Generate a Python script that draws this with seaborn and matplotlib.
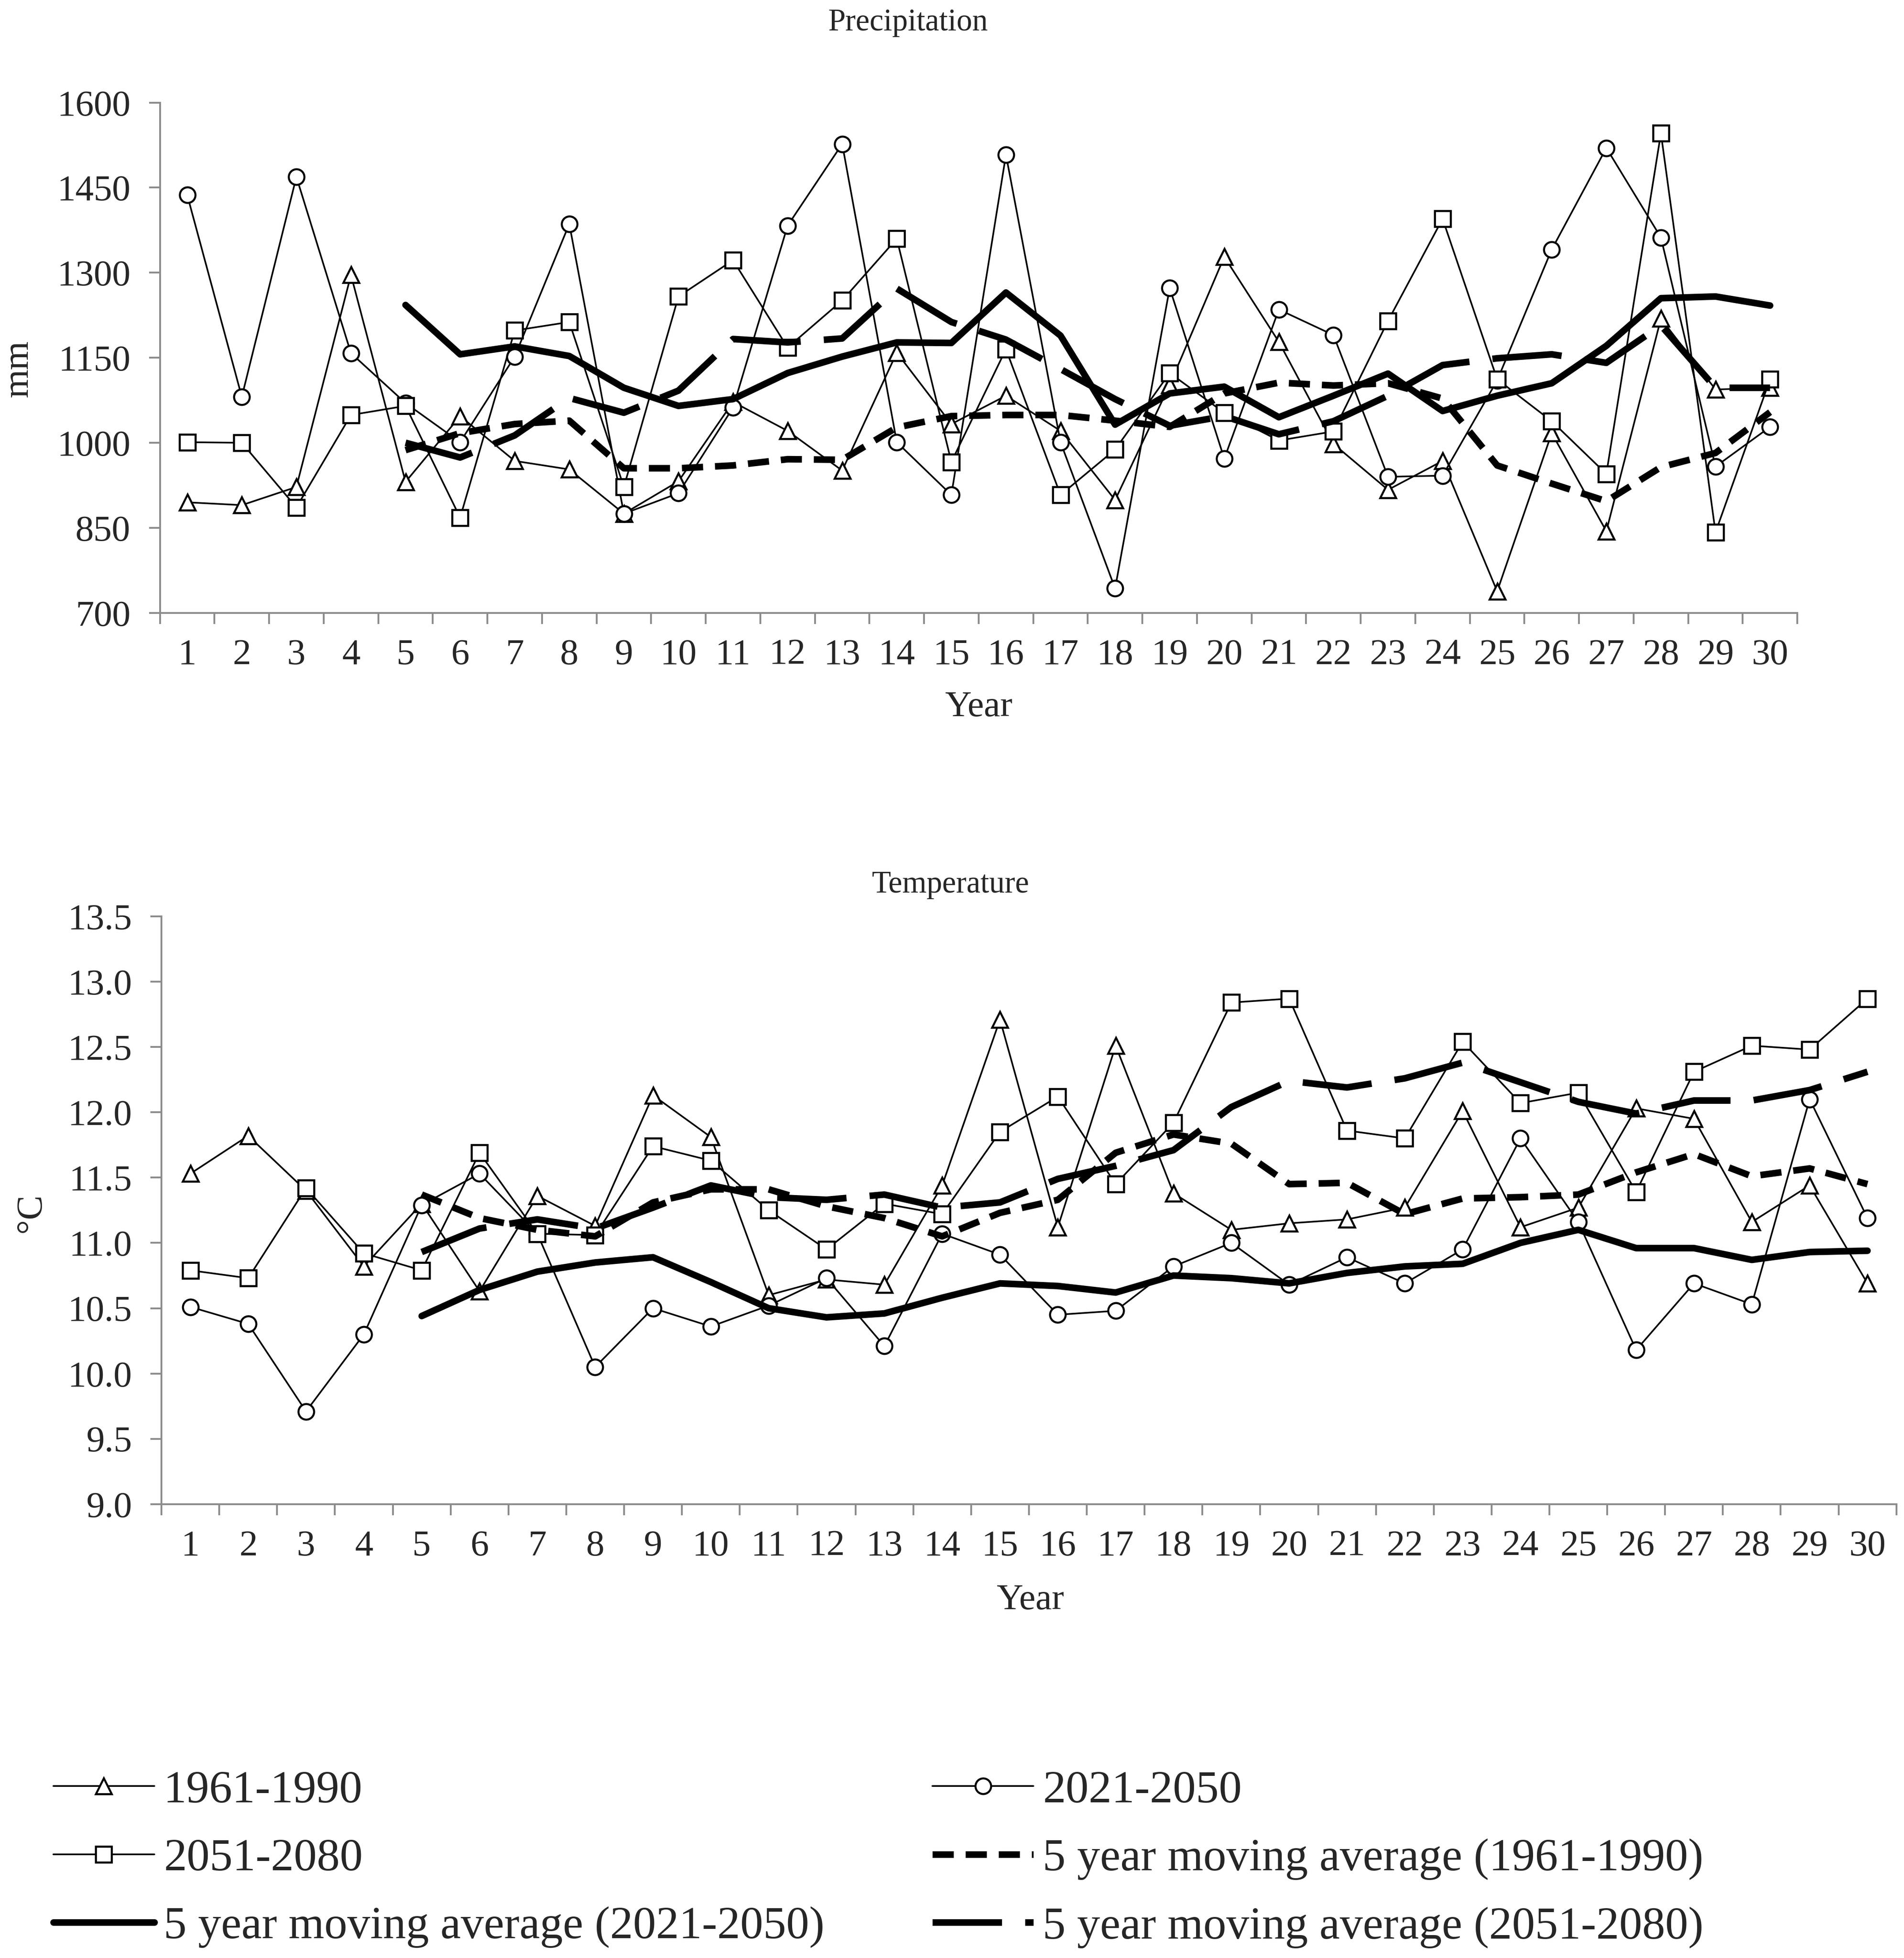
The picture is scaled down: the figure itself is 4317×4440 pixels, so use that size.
import numpy as np
import matplotlib
matplotlib.use("Agg")
import matplotlib.pyplot as plt
import seaborn as sns

years = list(range(1, 31))
ma_years = list(range(5, 31))

# Precipitation (mm)
precip_1961_1990 = [895, 890, 922, 1296, 931, 1047, 968, 953, 875, 932,
                    1072, 1021, 951, 1159, 1033, 1083, 1021, 899, 1102, 1328,
                    1178, 998, 917, 968, 738, 1017, 844, 1219, 1094, 1097]
precip_2021_2050 = [1437, 1081, 1469, 1158, 1070, 1001, 1152, 1386, 875, 911,
                    1062, 1383, 1527, 1001, 908, 1508, 1001, 743, 1273, 972,
                    1235, 1190, 940, 942, 1110, 1341, 1520, 1362, 958, 1028]
precip_2051_2080 = [1001, 1000, 886, 1049, 1065, 868, 1198, 1213, 922, 1258,
                    1322, 1168, 1251, 1360, 966, 1165, 908, 988, 1123, 1053,
                    1004, 1020, 1215, 1395, 1112, 1038, 945, 1546, 842, 1112]

# 5 year moving averages (years 5-30)
precip_ma_1961_1990 = [987, 1017, 1033, 1039, 955, 955, 960, 971, 970, 1027,
                       1047, 1049, 1049, 1039, 1028, 1087, 1106, 1101, 1105, 1078,
                       960, 928, 897, 957, 982, 1054]
precip_ma_2021_2050 = [1243, 1156, 1170, 1153, 1097, 1065, 1077, 1123, 1152, 1177,
                       1176, 1265, 1189, 1032, 1087, 1099, 1045, 1083, 1122, 1056,
                       1083, 1105, 1171, 1255, 1258, 1242]
precip_ma_2051_2080 = [1000, 974, 1013, 1079, 1053, 1092, 1183, 1177, 1184, 1272,
                       1213, 1182, 1130, 1077, 1030, 1047, 1015, 1038, 1083, 1137,
                       1149, 1156, 1141, 1207, 1097, 1097]

# Temperature (°C)
temp_1961_1990 = [11.53, 11.82, 11.40, 10.82, 11.30, 10.63, 11.36, 11.13, 12.13, 11.81,
                  10.60, 10.72, 10.68, 11.44, 12.71, 11.12, 12.51, 11.38, 11.10, 11.15,
                  11.18, 11.27, 12.01, 11.12, 11.27, 12.03, 11.95, 11.16, 11.44, 10.69]
temp_2021_2050 = [10.51, 10.38, 9.71, 10.30, 11.29, 11.53, 11.07, 10.05, 10.50, 10.36,
                  10.52, 10.73, 10.21, 11.07, 10.91, 10.45, 10.48, 10.82, 11.00, 10.68,
                  10.89, 10.69, 10.95, 11.80, 11.16, 10.18, 10.69, 10.53, 12.10, 11.19]
temp_2051_2080 = [10.79, 10.73, 11.42, 10.92, 10.79, 11.69, 11.07, 11.06, 11.74, 11.63,
                  11.25, 10.95, 11.30, 11.22, 11.85, 12.12, 11.45, 11.92, 12.84, 12.87,
                  11.86, 11.80, 12.54, 12.07, 12.15, 11.39, 12.31, 12.51, 12.48, 12.87]

temp_ma_1961_1990 = [11.37, 11.19, 11.10, 11.05, 11.31, 11.41, 11.41, 11.28, 11.19, 11.05,
                     11.23, 11.33, 11.69, 11.83, 11.76, 11.45, 11.46, 11.22, 11.34, 11.35,
                     11.37, 11.54, 11.68, 11.51, 11.57, 11.45]
temp_ma_2021_2050 = [10.44, 10.64, 10.78, 10.85, 10.89, 10.70, 10.50, 10.43, 10.46, 10.58,
                     10.69, 10.67, 10.62, 10.75, 10.73, 10.69, 10.77, 10.82, 10.84, 11.00,
                     11.10, 10.96, 10.96, 10.87, 10.93, 10.94]
temp_ma_2051_2080 = [10.93, 11.11, 11.18, 11.11, 11.27, 11.44, 11.35, 11.33, 11.37, 11.27,
                     11.31, 11.49, 11.59, 11.71, 12.04, 12.24, 12.19, 12.26, 12.38, 12.23,
                     12.08, 11.99, 12.09, 12.09, 12.17, 12.31]

labels = ["1961-1990", "2021-2050", "2051-2080",
          "5 year moving average (1961-1990)",
          "5 year moving average (2021-2050)",
          "5 year moving average (2051-2080)"]

sns.set_style("white")
plt.rcParams["font.family"] = ["Liberation Serif", "DejaVu Serif"]

fig = plt.figure(figsize=(4317 / 300, 4440 / 300), dpi=300)
ax_p = fig.add_axes([0.084, 0.687, 0.860, 0.2606])
ax_t = fig.add_axes([0.0848, 0.2318, 0.9112, 0.3002])

axis_grey = "#8c8c8c"


def draw_panel(ax, raw, ma):
    for vals, mk, lab in zip(raw, ["^", "o", "s"], labels[:3]):
        sns.lineplot(x=years, y=vals, ax=ax, color="black", linewidth=0.9,
                     marker=mk, markersize=8.5, markerfacecolor="white",
                     markeredgecolor="black", markeredgewidth=1.1,
                     label=lab, legend=False)
    styles = [(0, (3.2, 1.8)), "-", (0, (10.5, 3.5))]
    for vals, ls, lab in zip(ma, styles, labels[3:]):
        sns.lineplot(x=ma_years, y=vals, ax=ax, color="black", linewidth=3.6,
                     linestyle=ls, label=lab, legend=False)

    ax.set_xlim(0.5, 30.5)
    ax.set_xticks(years)
    ax.set_xticks(np.arange(0.5, 31, 1), minor=True)
    ax.tick_params(axis="x", which="major", length=0, pad=14, labelsize=20)
    ax.tick_params(axis="x", which="minor", bottom=True, length=6, width=1,
                   color=axis_grey, direction="out")
    ax.tick_params(axis="y", left=True, length=6, width=1, color=axis_grey,
                   direction="out", pad=10, labelsize=20)
    for side in ["top", "right"]:
        ax.spines[side].set_visible(False)
    for side in ["left", "bottom"]:
        ax.spines[side].set_color(axis_grey)
        ax.spines[side].set_linewidth(1.0)
    ax.set_xlabel("")
    ax.set_ylabel("")


draw_panel(ax_p, [precip_1961_1990, precip_2021_2050, precip_2051_2080],
           [precip_ma_1961_1990, precip_ma_2021_2050, precip_ma_2051_2080])
ax_p.set_ylim(700, 1600)
ax_p.set_yticks(np.arange(700, 1601, 150))

draw_panel(ax_t, [temp_1961_1990, temp_2021_2050, temp_2051_2080],
           [temp_ma_1961_1990, temp_ma_2021_2050, temp_ma_2051_2080])
ax_t.set_ylim(9.0, 13.5)
ax_t.set_yticks(np.arange(9.0, 13.51, 0.5))
ax_t.set_yticklabels([f"{v:.1f}" for v in np.arange(9.0, 13.51, 0.5)])

# titles and axis labels
fig.text(0.477, 0.9885, "Precipitation", ha="center", va="center", fontsize=17)
fig.text(0.4993, 0.548, "Temperature", ha="center", va="center", fontsize=17)
fig.text(0.514, 0.6386, "Year", ha="center", va="center", fontsize=20)
fig.text(0.541, 0.1826, "Year", ha="center", va="center", fontsize=20)
fig.text(0.0099, 0.8116, "mm", ha="center", va="center", rotation=90, fontsize=20)
fig.text(0.0164, 0.3806, "°C", ha="center", va="center", rotation=90, fontsize=20)

handles, labs = ax_p.get_legend_handles_labels()
order = [0, 2, 4, 1, 3, 5]
fig.legend([handles[i] for i in order], [labs[i] for i in order],
           loc="upper left", bbox_to_anchor=(0.028, 0.096), ncol=2,
           frameon=False, fontsize=25, handlelength=2.2, handletextpad=0.2,
           columnspacing=2.35, labelspacing=0.57, borderaxespad=0, borderpad=0)

fig.savefig("out.png", dpi=300)
